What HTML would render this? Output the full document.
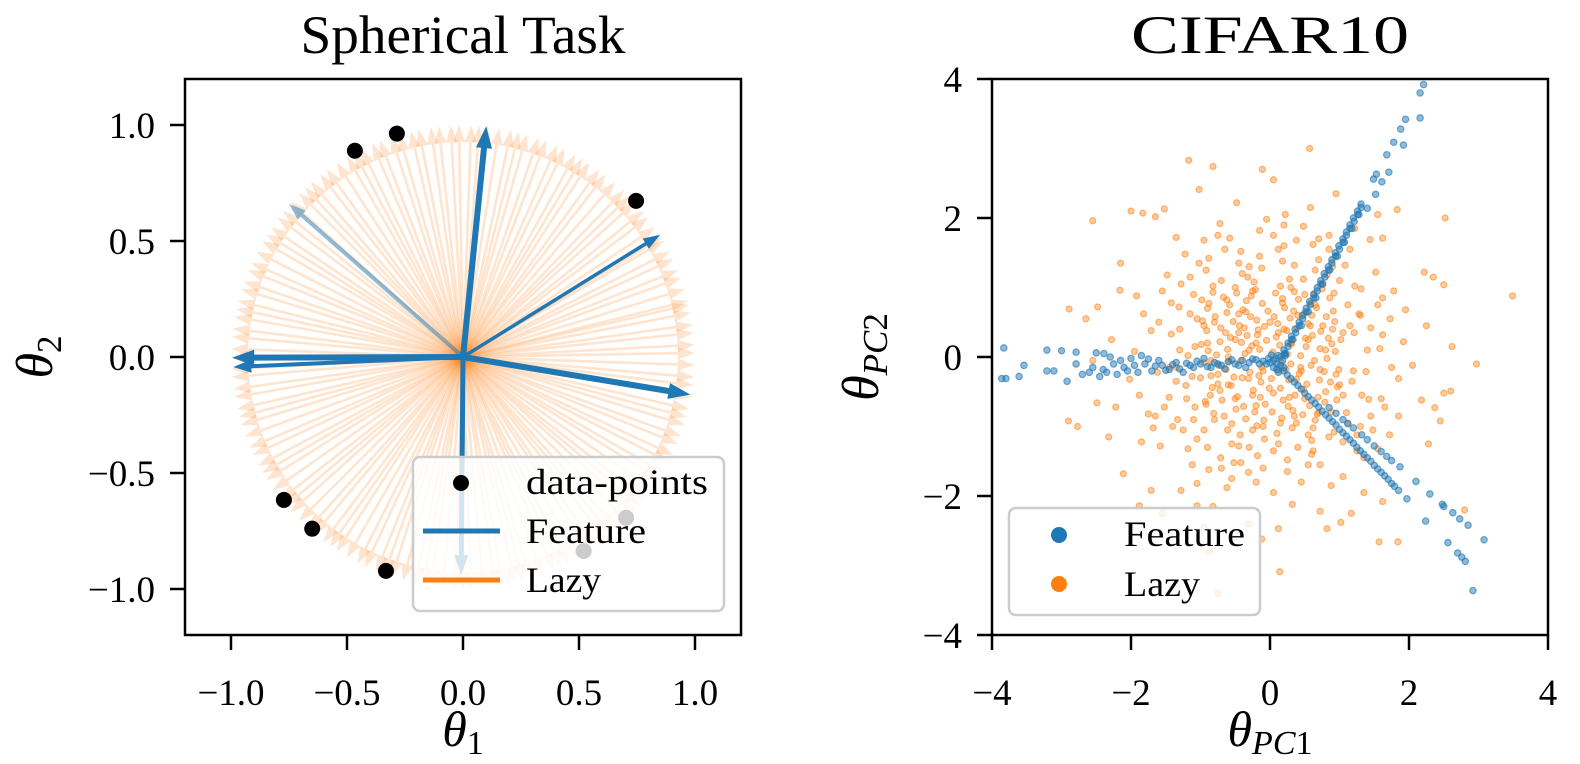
<!DOCTYPE html>
<html><head><meta charset="utf-8"><style>
html,body{margin:0;padding:0;background:#fff;}
svg{display:block;font-family:"Liberation Serif","DejaVu Serif",serif;}
</style></head><body>
<svg id="fig" width="1580" height="764" viewBox="0 0 1580 764" xmlns="http://www.w3.org/2000/svg">
<rect width="1580" height="764" fill="#fff"/>
<g id="left"></g>
<g id="right"></g>
</svg>
<script>
// ---------- Spherical task data ----------
const lazyAngles = [1,3,6,8,11,13,14,17,20,22,25,27,30,31,34,37,39,42,44,46,49,52,54,57,59,61,64,66,69,71,74,76,78,81,84,86,88,91,93,96,98,101,103,106,108,111,113,116,118,120,123,126,128,131,133,135,138,141,143,146,148,150,153,156,158,161,163,166,168,170,173,175,178,180,183,185,188,190,193,195,197,200,203,205,208,210,212,215,218,220,222,225,228,230,233,235,237,240,243,245,248,250,252,255,258,260,262,265,268,270,272,275,278,280,283,285,287,290,293,295,297,300,303,305,308,310,312,315,318,320,322,325,328,330,333,335,338,340,343,345,347,350,353,355,358];
const lazyLen = 1.0;
const featU = [0.10,-0.995,-0.99,0.98,0.85,-0.75,-0.008];
const featV = [0.995,-0.003,-0.043,-0.162,0.527,0.66,-0.94];
const dataX = [-0.285,-0.466,0.746,-0.772,-0.65,-0.332,0.703,0.52];
const dataY = [0.963,0.889,0.673,-0.616,-0.74,-0.922,-0.693,-0.836];
const leftTicks = [-1.0,-0.5,0.0,0.5,1.0];
const leftTickLabels = ["\u22121.0","\u22120.5","0.0","0.5","1.0"];

// ---------- CIFAR10 data ----------
const lazyX = [0.12,-0.45,0.78,-0.83,0.33,-0.12,0.55,-0.61,0.91,-0.27,0.05,-0.95,0.44,-0.38,0.69,-0.71,0.21,-0.05,0.84,-0.52,0.27,-0.19,0.63,-0.88,0.38,-0.66,0.97,-0.33,0.16,-0.77,0.49,-0.09,0.72,-0.42,0.08,-0.58,0.31,-0.24,0.88,-0.91,0.59,-0.15,0.02,-0.69,0.41,-0.36,0.76,-0.03,0.19,-0.85,0.53,-0.48,0.94,-0.22,0.11,-0.63,0.36,-0.11,0.67,-0.79,0.25,-0.44,0.82,-0.31,0.47,-0.55,0.14,-0.93,0.61,-0.17,0.29,-0.72,0.93,-0.07,0.57,-0.39,0.04,-0.57,0.71,-0.26,0.35,-0.81,0.17,-0.47,0.86,-0.13,0.52,-0.67,0.23,-0.99,0.65,-0.35,0.09,-0.53,0.79,-0.21,0.42,-0.75,0.99,-0.01,
1.21,-1.15,0.35,-0.45,1.42,-1.33,0.82,-0.92,1.05,-0.71,1.58,-1.62,0.12,0.25,1.31,-1.28,1.12,-1.05,0.62,-0.58,0.72,-0.31,1.73,-1.71,1.48,-1.45,0.95,-0.15,0.45,-0.88,1.85,-1.88,1.15,-1.22,1.35,-1.12,0.05,-0.05,1.62,-1.55,1.02,-1.08,1.18,-1.21,0.28,-0.32,0.55,-0.25,1.45,-1.42,0.75,-0.82,0.92,-0.95,1.65,-1.68,0.48,-0.72,0.88,-0.62,1.92,-1.95,1.28,-1.31,1.38,-1.35,0.18,-0.12,0.12,-0.18,1.08,-1.02,1.25,-1.18,1.52,-1.48,1.55,-1.58,0.38,-0.42,0.62,-0.52,1.78,-1.82,1.72,-1.75,0.85,-0.95,1.05,-1.05,2.05,-2.02,0.22,0.32,1.95,-1.92,1.85,-1.85,1.22,-1.35,1.35,-1.28,0.58,-0.48,0.72,-0.82,
2.25,-2.28,2.18,-2.22,2.35,-2.15,2.28,-2.32,1.55,-1.65,1.62,-1.55,0.95,-1.02,1.02,-0.95,2.62,-2.55,0.05,-0.12,2.45,-2.48,
0.57,-1.17,-0.82,-0.11,-2.55,3.49,2.97,-2.89,-2.9,-2.77,-2.11,2.52,1.84,1.57,0.14,0.12,-0.75,1.17,0.82,2.8,2.5,2.6,2.5,2.37,2.22,1.83,1.44,1.62,-2.0,-1.83,-1.52,-2.16,-2.65,-2.49,-1.71,-1.88,-1.05,-0.31,-0.87,
0.06,-0.29,0.48,-0.62,0.73,-0.86,0.26,-0.41,0.64,-0.14,0.39,-0.74,0.87,-0.34,0.13,-0.56,0.58,-0.97,0.32,-0.08,0.81,-0.49,0.18,-0.64,0.96,-0.19,0.44,-0.82,0.68,-0.28,0.03,-0.59,0.75,-0.43,0.51,-0.89,0.24,-0.16,0.89,-0.37,1.05,-1.08,0.34,-0.61,0.62,-0.23,0.15,-0.98,1.12,-1.12,
-0.2,0.3,-0.5,0.6,-0.8,0.1,-1.0,0.9,-0.3,0.4,-0.7,1.1,-1.3,0.2,-0.1,1.4,-1.4,0.7,-0.9,1.0,
-0.6,0.5,-0.4,0.8,-1.1,0.0,-0.2,0.3,-0.8,1.2,-0.5,0.6,-1.2,0.9,-0.3,1.3,-0.9,0.4,-0.1,0.7,
-0.45,0.15,-0.75,0.55,-0.25,0.35,-1.05,0.85,-0.55,1.15,-0.15,0.25,-1.35,1.45,-0.65,0.65,-1.25,0.95,-0.35,0.05,
-0.92,0.48,-0.18,0.72,-1.42,0.28,-0.62,1.32,-0.08,0.58,-0.88,1.22,-1.18,0.18,-0.42,0.92,-0.72,0.38,-1.52,1.62,
-0.3,0.2,-0.6,0.5,-0.9,0.8,-0.1,0.3,-1.1,1.0,-0.4,0.6,-1.3,1.3,-0.7,0.7,-1.6,1.6,-0.2,0.2,
-0.5,0.45,-0.25,0.65,-0.95,0.15,-0.85,1.05,-0.45,0.55,-1.15,1.25,-1.45,0.05,-0.55,1.55,-1.65,0.85,-0.75,1.75];
const lazyY = [0.35,0.62,-0.21,-0.44,-0.77,-0.15,0.48,0.11,0.66,0.88,-0.52,-0.08,0.02,-0.71,-0.58,0.42,0.71,0.24,0.27,-0.29,-0.33,0.53,0.91,0.77,-0.95,-0.85,-0.43,0.31,-0.08,0.03,0.62,-0.91,0.12,-0.05,0.92,0.75,0.19,-0.48,-0.79,0.38,-0.12,0.11,-0.31,-0.62,0.83,0.05,0.45,0.66,-0.62,-0.27,-0.39,0.92,0.08,-0.79,0.48,-0.18,-0.55,0.77,0.71,0.58,0.04,0.45,-0.02,-0.31,-0.83,-0.96,0.17,-0.64,0.31,0.39,0.56,0.22,0.51,-0.68,-0.7,0.68,0.07,0.28,-0.33,0.16,0.94,-0.81,-0.88,-0.57,0.85,-0.36,0.15,0.86,-0.18,0.18,-0.91,-0.89,0.29,0.51,-0.65,0.97,-0.24,-0.39,-0.18,-0.45,
0.35,0.62,1.32,-1.28,-0.61,-0.9,1.18,1.25,-1.22,-1.45,0.12,-0.22,1.55,-1.48,0.98,1.05,-0.95,-1.18,1.62,1.71,-1.55,-1.66,0.55,0.38,-1.05,-0.58,1.45,1.82,-1.8,-1.62,-0.31,-0.55,1.55,1.48,-1.45,-1.55,-1.95,1.98,0.85,0.95,0.25,0.15,-0.35,-0.41,1.12,1.15,-1.12,-1.05,0.42,0.33,1.05,1.02,-1.08,-1.05,-0.72,-1.02,1.88,1.92,-1.85,-1.88,0.22,0.08,0.62,0.72,-0.21,-0.15,1.38,1.28,-1.25,-1.42,1.32,1.35,-1.12,-1.32,1.22,1.18,-1.32,-1.28,1.68,1.52,-1.35,-1.52,0.95,0.62,-1.12,-0.82,1.75,1.68,-1.72,-1.82,-0.12,-0.32,2.05,-2.12,0.68,0.88,-0.85,-1.22,1.85,1.72,-1.95,-1.92,2.15,2.22,-2.22,-2.15,
0.45,0.25,-0.62,-0.72,1.15,1.35,-1.25,-1.15,2.05,2.02,-2.08,-2.25,2.35,2.41,-2.38,-2.45,0.15,-0.05,2.55,-2.62,-0.92,0.72,
3.0,2.83,2.74,2.7,1.96,0.88,-0.1,0.69,-0.92,-1.0,-1.68,2.0,-2.66,-2.66,-3.09,-2.47,-3.4,-2.25,-2.47,-2.2,1.04,-0.49,-0.52,-0.73,1.22,2.12,1.69,1.71,2.1,2.07,2.13,0.96,0.55,-0.66,-1.92,-2.14,-2.14,-2.4,-2.8,
0.58,-0.22,-0.47,0.64,0.37,-0.55,-0.71,0.21,-0.05,-0.58,0.41,-0.12,-0.36,0.81,-0.19,-0.41,0.77,0.52,-1.02,0.44,0.58,-0.75,0.84,0.35,-0.62,-0.99,-0.15,0.93,-0.82,0.58,-0.79,-0.06,0.98,-1.12,0.27,0.09,0.38,-0.27,0.19,0.42,-0.55,-0.72,0.66,-1.05,-1.02,1.08,1.02,0.82,0.75,-0.28,
0.2,-0.1,-0.6,0.6,0.5,-1.1,-0.3,0.4,1.3,-1.3,1.1,-0.8,0.4,1.6,-1.6,0.1,-1.0,1.4,-1.3,1.1,
0.0,0.9,-0.3,-0.5,0.9,0.5,-0.7,0.2,-0.9,-0.2,1.0,-1.4,-0.6,1.3,-1.3,0.6,0.2,0.6,-0.2,-0.8,
0.35,-0.45,-0.25,0.25,0.95,-0.85,0.55,-1.15,-1.25,0.45,1.45,-1.65,-0.35,-0.85,1.55,1.25,-1.05,-0.25,0.65,-1.35,
-0.68,1.12,0.32,-0.18,0.78,-0.58,0.82,-0.55,-1.18,0.45,1.42,1.02,0.02,0.78,-1.52,0.92,-0.48,-0.32,-0.72,0.32,
0.1,0.4,-0.4,-0.6,0.7,0.1,-1.0,1.0,-0.9,-0.4,1.2,-1.2,0.1,-1.0,-1.6,1.7,0.5,-0.6,-1.8,1.9,
0.25,-0.2,-0.55,0.75,0.45,-0.95,-0.05,0.35,1.35,-1.55,1.15,-1.35,-0.15,1.75,-1.75,0.75,-0.85,1.55,1.75,-0.15];
const featX = [0.1,0.05,0.15,0.08,0.0,0.12,0.2,-0.05,0.1,0.02,0.05,0.18,-0.02,0.12,0.22,
0.15,0.2,0.26,0.31,0.36,0.42,0.47,0.52,0.57,0.63,0.68,0.73,0.78,0.84,0.89,0.94,0.99,1.05,1.1,1.15,1.2,1.26,1.31,0.22,0.33,0.45,0.55,0.66,0.76,0.86,0.97,1.07,1.18,1.28,1.4,1.52,1.61,1.49,1.53,1.71,1.68,1.78,1.92,1.88,1.95,2.16,2.16,2.21,
0.21,0.26,0.31,0.37,0.42,0.47,0.52,0.58,0.63,0.68,0.73,0.79,0.84,0.89,0.94,1.0,1.05,1.1,1.15,1.21,1.26,1.31,
-0.1,-0.2,-0.3,-0.4,-0.5,-0.6,-0.7,-0.8,-0.9,-1.0,-1.1,-1.2,-1.3,-1.4,-1.5,-1.6,-1.7,-1.8,-1.9,-2.0,-2.1,-2.2,-2.3,-2.4,-2.5,-2.39,-0.35,-0.65,-0.95,-1.25,-1.55,-1.85,-2.15,-2.6,-2.79,-2.79,-2.92,-3.0,-3.11,-3.21,-3.21,-3.54,-3.61,-3.8,-3.86,-3.83,-2.7,-2.45,
-0.15,-0.25,-0.45,-0.55,-0.75,-0.85,-1.05,-1.15,-1.35,-1.45,-1.65,-1.75,-1.95,-2.05,-2.25,-2.35,-2.55,
0.2,0.3,0.4,0.5,0.6,0.7,0.8,0.9,1.0,1.1,1.2,1.3,1.4,1.5,1.6,1.7,1.79,1.85,1.97,0.85,0.95,1.05,1.12,1.2,1.32,1.4,1.5,1.6,1.68,1.75,1.87,2.1,2.3,2.48,2.5,2.63,2.73,2.85,3.08,2.24,2.56,2.7,2.76,2.81,2.92,
0.25,0.35,0.45,0.55,0.65,0.75,0.85,0.95,1.05,1.15,1.25,1.35,1.45,1.55,1.65,1.75];
const featY = [-0.1,-0.05,-0.12,-0.02,-0.08,0.02,-0.15,-0.1,-0.18,0.03,-0.15,-0.05,-0.02,-0.22,0.02,
0.0,0.1,0.2,0.3,0.4,0.5,0.6,0.7,0.8,0.9,1.0,1.1,1.2,1.3,1.4,1.5,1.6,1.7,1.8,1.9,2.0,2.1,2.2,0.05,0.25,0.45,0.65,0.85,1.05,1.25,1.45,1.65,1.85,2.05,2.14,2.34,2.52,2.56,2.63,2.66,2.91,3.09,3.05,3.28,3.42,3.44,3.8,3.92,
0.05,0.15,0.25,0.35,0.45,0.55,0.65,0.75,0.85,0.95,1.05,1.15,1.25,1.35,1.45,1.55,1.65,1.75,1.85,1.95,2.05,2.15,
-0.06,-0.04,-0.08,-0.05,-0.1,-0.07,-0.12,-0.08,-0.14,-0.1,-0.15,-0.09,-0.17,-0.11,-0.19,-0.05,-0.2,-0.1,-0.22,-0.02,-0.15,-0.25,0.0,-0.18,0.06,0.05,-0.15,-0.17,-0.02,-0.22,-0.12,0.02,-0.05,-0.22,-0.1,0.07,-0.35,0.09,-0.2,-0.2,0.1,-0.12,-0.28,-0.31,-0.31,0.13,-0.25,-0.28,
-0.1,-0.03,-0.12,-0.04,-0.1,-0.15,-0.06,-0.12,-0.08,-0.18,-0.13,-0.03,-0.12,-0.2,-0.1,-0.22,-0.15,
-0.2,-0.31,-0.41,-0.52,-0.62,-0.72,-0.83,-0.93,-1.04,-1.14,-1.24,-1.35,-1.45,-1.56,-1.66,-1.76,-1.86,-1.92,-2.04,-0.73,-0.81,-0.9,-0.96,-1.02,-1.12,-1.19,-1.28,-1.36,-1.43,-1.49,-1.58,-1.79,-1.97,-2.12,-2.15,-2.24,-2.33,-2.42,-2.63,-2.36,-2.67,-2.82,-2.88,-2.94,-3.36,
-0.26,-0.36,-0.46,-0.57,-0.67,-0.78,-0.88,-0.98,-1.09,-1.19,-1.3,-1.4,-1.5,-1.61,-1.71,-1.82];
const rightTicks = [-4,-2,0,2,4];
const rightTickLabels = ["\u22124","\u22122","0","2","4"];

const NS = "http://www.w3.org/2000/svg";
function mk(tag, attrs, parent){const e=document.createElementNS(NS,tag);for(const k in attrs)e.setAttribute(k,attrs[k]);parent.appendChild(e);return e;}

const L = {x0:185, x1:741, y0:79, y1:635, cx:463, cy:357, k:232};
const R = {x0:992, x1:1548, y0:79, y1:635, cx:1270, cy:357, k:69.5};
const lx = v => L.cx + L.k*v, ly = v => L.cy - L.k*v;
const rx = v => R.cx + R.k*v, ry = v => R.cy - R.k*v;

function arrowPts(ox,oy,tx,ty,w,hw,hl){
  const dx=tx-ox, dy=ty-oy, len=Math.hypot(dx,dy), ux=dx/len, uy=dy/len, nx=-uy, ny=ux;
  const bx=tx-ux*hl, by=ty-uy*hl;
  const p=[[ox+nx*w/2,oy+ny*w/2],[bx+nx*w/2,by+ny*w/2],[bx+nx*hw/2,by+ny*hw/2],[tx,ty],[bx-nx*hw/2,by-ny*hw/2],[bx-nx*w/2,by-ny*w/2],[ox-nx*w/2,oy-ny*w/2]];
  return p.map(q=>q[0].toFixed(1)+","+q[1].toFixed(1)).join(" ");
}

const gl = document.getElementById('left');
const gr = document.getElementById('right');

const gLazy = mk('g',{},gl);


lazyAngles.forEach(a=>{
  const t=a*Math.PI/180;
  const p=mk('polygon',{points:arrowPts(lx(0),ly(0),lx(lazyLen*Math.cos(t)),ly(lazyLen*Math.sin(t)),2.6,12,17),fill:'#ff7f0e','fill-opacity':'0.2'},gLazy);
  
  
});
const featStyle=[[6,16,22,1],[6,16,22,1],[4,13,18,1],[6,16,22,1],[3.5,12,17,1],[4,12,17,0.5],[5,14,20,1]];
const gFeat = mk('g',{},gl);


featU.forEach((u,i)=>{
  const s=featStyle[i];
  const p=mk('polygon',{points:arrowPts(lx(0),ly(0),lx(u),ly(featV[i]),s[0],s[1],s[2]),fill:'#1f77b4','fill-opacity':s[3]},gFeat);
  
  
});
dataX.forEach((x,i)=>{
  const c=mk('circle',{cx:lx(x),cy:ly(dataY[i]),r:8,fill:'#000'},gl);
  
  
});

lazyX.forEach((x,i)=>{
  const c=mk('circle',{cx:rx(x),cy:ry(lazyY[i]),r:3,fill:'#ff7f0e','fill-opacity':'0.4',stroke:'#ff7f0e','stroke-opacity':'0.55','stroke-width':'1.2'},gr);
  
  
});
featX.forEach((x,i)=>{
  const c=mk('circle',{cx:rx(x),cy:ry(featY[i]),r:3.2,fill:'#1f77b4','fill-opacity':'0.5',stroke:'#1f77b4','stroke-opacity':'0.6','stroke-width':'1.2'},gr);
  
  
});

function axes(g,A,ticks,labels,fx,fy,name){
  const f=mk('rect',{x:A.x0,y:A.y0,width:A.x1-A.x0,height:A.y1-A.y0,fill:'none',stroke:'#000','stroke-width':2.5},g);
  
  
  ticks.forEach((t,i)=>{
    const X=fx(t), Y=fy(t);
    const a=mk('line',{x1:X,y1:A.y1,x2:X,y2:A.y1+15,stroke:'#000','stroke-width':2.5},g);
    
    
    const b=mk('text',{x:X,y:A.y1+70,'font-size':37,'text-anchor':'middle'},g);
    b.textContent=labels[i];
    
    
    const c=mk('line',{x1:A.x0-15,y1:Y,x2:A.x0,y2:Y,stroke:'#000','stroke-width':2.5},g);
    
    
    const d=mk('text',{x:A.x0-30,y:Y+13,'font-size':37,'text-anchor':'end'},g);
    d.textContent=labels[i];
    
    
  });
}
axes(gl,L,leftTicks,leftTickLabels,lx,ly,'left');
axes(gr,R,rightTicks,rightTickLabels,rx,ry,'right');

const fig=document.getElementById('fig');
fig.insertAdjacentHTML('beforeend',`
<g>
<rect x="413" y="457" width="311" height="154" rx="7" fill="#fff" fill-opacity="0.8" stroke="#cccccc" stroke-width="2.5"/>
<circle cx="461" cy="483" r="8" fill="#000"/>
<line x1="423" y1="531" x2="500" y2="531" stroke="#1f77b4" stroke-width="5"/>
<line x1="423" y1="580" x2="500" y2="580" stroke="#ff7f0e" stroke-width="5"/>
<text x="526" y="494" font-size="36" textLength="182" lengthAdjust="spacingAndGlyphs">data-points</text>
<text x="526" y="543" font-size="36" textLength="120" lengthAdjust="spacingAndGlyphs">Feature</text>
<text x="526" y="592" font-size="36" textLength="75" lengthAdjust="spacingAndGlyphs">Lazy</text>
</g>
<g>
<rect x="1009" y="508" width="251" height="107" rx="7" fill="#fff" fill-opacity="0.8" stroke="#cccccc" stroke-width="2.5"/>
<circle cx="1059" cy="535" r="8" fill="#1f77b4"/>
<circle cx="1059" cy="584" r="8" fill="#ff7f0e"/>
<text x="1124" y="546" font-size="36" textLength="121" lengthAdjust="spacingAndGlyphs">Feature</text>
<text x="1124" y="596" font-size="36" textLength="76" lengthAdjust="spacingAndGlyphs">Lazy</text>
</g>
<text x="463" y="53" font-size="54" text-anchor="middle" textLength="325" lengthAdjust="spacingAndGlyphs">Spherical Task</text>
<text x="1270" y="53" font-size="54" text-anchor="middle" textLength="278" lengthAdjust="spacingAndGlyphs">CIFAR10</text>
<text x="463" y="746" font-size="50" text-anchor="middle"><tspan font-style="italic">θ</tspan><tspan font-size="34" dy="8">1</tspan></text>
<text x="1270" y="746" font-size="50" text-anchor="middle"><tspan font-style="italic">θ</tspan><tspan font-size="34" dy="8" font-style="italic">PC</tspan><tspan font-size="34">1</tspan></text>
<text transform="translate(52,357) rotate(-90)" font-size="52" text-anchor="middle"><tspan font-style="italic">θ</tspan><tspan font-size="35" dy="9">2</tspan></text>
<text transform="translate(878,357) rotate(-90)" font-size="52" text-anchor="middle"><tspan font-style="italic">θ</tspan><tspan font-size="35" dy="9" font-style="italic">PC</tspan><tspan font-size="35">2</tspan></text>
`);
</script>
</body></html>
